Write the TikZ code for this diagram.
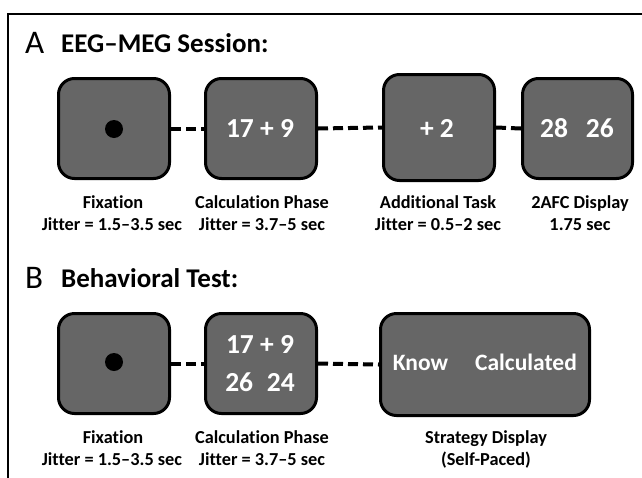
\documentclass[tikz,border=0pt]{standalone}
\usepackage{fontspec}
\setmainfont[Ligatures=NoCommon]{Carlito}
\definecolor{boxgray}{RGB}{102,102,102}
\begin{document}
\begin{tikzpicture}[x=1pt,y=-1pt,
  screen/.style={draw=black, line width=3pt, fill=boxgray, rounded corners=16pt, inner sep=0pt},
  boxtxt/.style={text=white, font=\bfseries\fontsize{27.5}{30}\selectfont, inner sep=0pt, text height=17.5pt, text depth=0pt},
  smalltxt/.style={text=white, font=\bfseries\fontsize{23.5}{28}\selectfont, inner sep=0pt, text height=15pt, text depth=0pt},
  lab/.style={font=\bfseries\fontsize{18.3}{20}\selectfont, anchor=base, inner sep=0pt},
  lett/.style={font=\fontsize{33}{36}\selectfont, anchor=base west, inner sep=0pt},
  ttl/.style={font=\bfseries\fontsize{27}{30}\selectfont, anchor=base west, inner sep=0pt},
  link/.style={line width=4pt, dash pattern=on 10pt off 5pt},
  fixdot/.style={circle, fill=black, minimum size=18pt, inner sep=0pt}]
\useasboundingbox (0,0) rectangle (642,477);
% frame
\coordinate (fr1) at (650,14);
\coordinate (fr2) at (8,14);
\coordinate (fr3) at (8,485);
\draw[line width=2pt] (fr1) -- (fr2) -- (fr3);
% titles
\node[lett] (la) at (25,53) {A};
\node[ttl] (ta) at (61,52) {EEG–MEG Session:};
\node[lett] (lb) at (25,288) {B};
\node[ttl] (tb) at (61,287) {Behavioral Test:};
% row A
\node[screen, minimum width=111pt, minimum height=100pt] (a1) at (114,128.5) {};
\node[screen, minimum width=111pt, minimum height=100pt] (a2) at (261,128.5) {};
\node[screen, minimum width=111pt, minimum height=106pt] (a3) at (439,127.5) {};
\node[screen, minimum width=110pt, minimum height=100pt] (a4) at (577.5,128.5) {};
\node[fixdot] (d1) at (114,129) {};
\node[boxtxt] (t2) at (260,129) {17 + 9};
\node[boxtxt] (t3) at (437,129) {+ 2};
\node[boxtxt] (t4) at (577,129) {28\hspace{0.65em}26};
\draw[link] (a1.east) -- (a2.west);
\draw[link] (a2.east) -- (a3.west);
\draw[link] (a3.east) -- (a4.west);
\node[lab] (l1) at (113,208) {Fixation};
\node[lab] (l1j) at (112,230) {Jitter = 1.5–3.5 sec};
\node[lab] (l2) at (262,208) {Calculation Phase};
\node[lab] (l2j) at (262,230) {Jitter = 3.7–5 sec};
\node[lab] (l3) at (438,208) {Additional Task};
\node[lab] (l3j) at (438,230) {Jitter = 0.5–2 sec};
\node[lab] (l4) at (580,208) {2AFC Display};
\node[lab] (l4j) at (580,230) {1.75 sec};
% row B
\node[screen, minimum width=111pt, minimum height=100pt] (b1) at (114,363.5) {};
\node[screen, minimum width=111pt, minimum height=100pt] (b2) at (261,363.5) {};
\node[screen, minimum width=209pt, minimum height=102pt] (b3) at (485,364.5) {};
\node[fixdot] (d2) at (114,362) {};
\node[boxtxt] (u2a) at (260,345) {17 + 9};
\node[boxtxt] (u2b) at (260,383) {26\hspace{0.5em}24};
\node[smalltxt] (u3a) at (420.5,363) {Know};
\node[smalltxt] (u3b) at (526,363) {Calculated};
\draw[link] (b1.east) -- (b2.west);
\draw[link] (b2.east) -- (b3.west);
\node[lab] (m1) at (113,443) {Fixation};
\node[lab] (m1j) at (112,465) {Jitter = 1.5–3.5 sec};
\node[lab] (m2) at (262,443) {Calculation Phase};
\node[lab] (m2j) at (262,465) {Jitter = 3.7–5 sec};
\node[lab] (m3) at (486,443) {Strategy Display};
\node[lab] (m3j) at (486,465) {(Self-Paced)};
\end{tikzpicture}
\end{document}
